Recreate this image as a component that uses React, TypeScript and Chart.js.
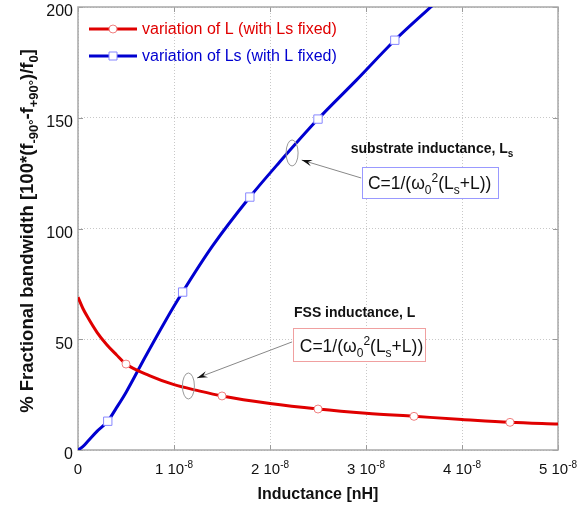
import React, { useEffect, useRef } from "react";
import { Chart, registerables } from "chart.js";
Chart.register(...registerables);

// x values are in units of 1e-8
const UNIT = 1e-8;
const redX = [0, 0.05, 0.1, 0.2, 0.3, 0.4, 0.5, 0.75, 1.0, 1.25, 1.5, 2.0, 2.5, 3.0, 3.5, 4.0, 4.5, 5.0];
const redY = [69, 64, 60, 53, 47.5, 43, 38.8, 33.5, 29.5, 26.8, 24.4, 21, 18.5, 16.6, 15.2, 13.8, 12.5, 11.7];
const redMarkX = [0.5, 1.5, 2.5, 3.5, 4.5];
const blueX = [0, 0.05, 0.1, 0.2, 0.31, 0.4, 0.5, 0.7, 0.9, 1.09, 1.4, 1.79, 2.1, 2.5, 2.9, 3.3, 3.7, 4.0];
const blueY = [0, 1.5, 3.8, 8.5, 13, 19, 26, 42, 57.5, 71.3, 92, 114.2, 130, 149.4, 167, 185, 201, 213];
const blueMarkX = [0.31, 1.09, 1.79, 2.5, 3.3];
const xTicks = [0, 1, 2, 3, 4, 5];
const yTicks = [0, 50, 100, 150, 200];
const seriesLabels = ["variation of L (with Ls fixed)", "variation of Ls (with L fixed)"];

const RED = "#e00000";
const BLUE = "#0000d0";
const FONT = "'Liberation Sans', Arial, sans-serif";

type Seg = { t: string; k?: "n" | "sub" | "sup" };

function drawRich(ctx: CanvasRenderingContext2D, x: number, y: number, segs: Seg[], size: number, bold: boolean) {
  const w = bold ? "bold " : "";
  let cx = x;
  for (const s of segs) {
    const k = s.k || "n";
    if (k === "n") {
      ctx.font = `${w}${size}px ${FONT}`;
      ctx.fillText(s.t, cx, y);
      cx += ctx.measureText(s.t).width;
    } else if (k === "sub") {
      ctx.font = `${w}${Math.round(size * 0.68)}px ${FONT}`;
      ctx.fillText(s.t, cx, y + size * 0.28);
      cx += ctx.measureText(s.t).width;
    } else {
      ctx.font = `${w}${Math.round(size * 0.68)}px ${FONT}`;
      ctx.fillText(s.t, cx, y - size * 0.4);
      cx += ctx.measureText(s.t).width;
    }
  }
  return cx - x;
}

function measureRich(ctx: CanvasRenderingContext2D, segs: Seg[], size: number, bold: boolean) {
  const w = bold ? "bold " : "";
  let tot = 0;
  for (const s of segs) {
    const k = s.k || "n";
    ctx.font = k === "n" ? `${w}${size}px ${FONT}` : `${w}${Math.round(size * 0.68)}px ${FONT}`;
    tot += ctx.measureText(s.t).width;
  }
  return tot;
}

const formula: Seg[] = [
  { t: "C=1/(ω" },
  { t: "0", k: "sub" },
  { t: "2", k: "sup" },
  { t: "(L" },
  { t: "s", k: "sub" },
  { t: "+L))" },
];

const decoPlugin = {
  id: "deco",
  beforeDatasetsDraw(chart: any) {
    const { ctx, chartArea: a } = chart;
    const xs = chart.scales.x;
    const ys = chart.scales.y;
    ctx.save();
    ctx.strokeStyle = "#9a9a9a";
    ctx.lineWidth = 1;
    ctx.beginPath();
    for (const t of xTicks) {
      const px = Math.round(xs.getPixelForValue(t * UNIT)) + 0.5;
      ctx.moveTo(px, a.bottom);
      ctx.lineTo(px, a.bottom - 5);
      ctx.moveTo(px, a.top);
      ctx.lineTo(px, a.top + 5);
    }
    for (const t of yTicks) {
      const py = Math.round(ys.getPixelForValue(t)) + 0.5;
      ctx.moveTo(a.left, py);
      ctx.lineTo(a.left + 5, py);
      ctx.moveTo(a.right, py);
      ctx.lineTo(a.right - 5, py);
    }
    ctx.stroke();
    ctx.strokeStyle = "#a8a8a8";
    ctx.lineWidth = 1.5;
    ctx.strokeRect(a.left, a.top, a.right - a.left, a.bottom - a.top);
    ctx.restore();
  },
  afterDraw(chart: any) {
    const { ctx, chartArea: a } = chart;
    const xs = chart.scales.x;
    const ys = chart.scales.y;
    const X = (v: number) => xs.getPixelForValue(v * UNIT);
    const Y = (v: number) => ys.getPixelForValue(v);
    ctx.save();
    ctx.fillStyle = "#111";
    // x tick labels
    ctx.textBaseline = "alphabetic";
    for (const t of xTicks) {
      const segs: Seg[] = t === 0 ? [{ t: "0" }] : [{ t: `${t} 10` }, { t: "-8", k: "sup" }];
      const w = measureRich(ctx, segs, 15, false);
      drawRich(ctx, X(t) - w / 2, a.bottom + 24, segs, 15, false);
    }
    // y tick labels
    ctx.font = `16px ${FONT}`;
    ctx.textAlign = "right";
    ctx.textBaseline = "middle";
    for (const t of yTicks) {
      ctx.fillText(String(t), a.left - 5, Y(t) + 5);
    }
    ctx.textAlign = "left";
    // x title
    ctx.textBaseline = "alphabetic";
    ctx.font = `bold 16px ${FONT}`;
    const xt = "Inductance [nH]";
    const xtw = ctx.measureText(xt).width;
    ctx.fillText(xt, (a.left + a.right) / 2 - xtw / 2, a.bottom + 49);
    // y title
    const ySegs: Seg[] = [
      { t: "% Fractional bandwidth [100*(f" },
      { t: "-90°", k: "sub" },
      { t: "-f" },
      { t: "+90°", k: "sub" },
      { t: ")/f" },
      { t: "0", k: "sub" },
      { t: "]" },
    ];
    const yw = measureRich(ctx, ySegs, 18.5, true);
    ctx.save();
    ctx.translate(33, 231);
    ctx.rotate(-Math.PI / 2);
    drawRich(ctx, -yw / 2, 0, ySegs, 18.5, true);
    ctx.restore();

    // legend
    const legendRows = [
      { c: RED, label: seriesLabels[0], style: "circle", border: "#f08080" },
      { c: BLUE, label: seriesLabels[1], style: "rect", border: "#8888ff" },
    ];
    legendRows.forEach((r, i) => {
      const ly = 29 + i * 27;
      ctx.strokeStyle = r.c;
      ctx.lineWidth = 3;
      ctx.beginPath();
      ctx.moveTo(89, ly);
      ctx.lineTo(137, ly);
      ctx.stroke();
      ctx.fillStyle = "#fff";
      ctx.strokeStyle = r.border;
      ctx.lineWidth = 1;
      ctx.beginPath();
      if (r.style === "circle") ctx.arc(113, ly, 4, 0, Math.PI * 2);
      else ctx.rect(109, ly - 4, 8, 8);
      ctx.fill();
      ctx.stroke();
      ctx.fillStyle = r.c;
      ctx.font = `16px ${FONT}`;
      ctx.textBaseline = "middle";
      ctx.fillText(r.label, 142, ly + 1);
    });

    // annotations
    const ann = [
      {
        title: [{ t: "substrate inductance, L" }, { t: "s", k: "sub" }] as Seg[],
        tx: 2.84, ty: 134,
        box: [2.96, 127.8, 4.375, 113.8], boxColor: "#9999ff",
        fx: 3.02, fy: 117.8,
        arrow: [2.95, 122.8, 2.33, 130.9],
        ell: [2.23, 134.1],
      },
      {
        title: [{ t: "FSS inductance, L" }] as Seg[],
        tx: 2.25, ty: 60,
        box: [2.24, 55.1, 3.61, 40.2], boxColor: "#f0a0a0",
        fx: 2.31, fy: 44.2,
        arrow: [2.23, 48.8, 1.24, 32.5],
        ell: [1.15, 28.9],
      },
    ];
    for (const an of ann) {
      ctx.textBaseline = "alphabetic";
      ctx.fillStyle = "#111";
      drawRich(ctx, X(an.tx), Y(an.ty), an.title, 14, true);
      const bx0 = X(an.box[0]), by0 = Y(an.box[1]), bx1 = X(an.box[2]), by1 = Y(an.box[3]);
      ctx.fillStyle = "#fff";
      ctx.fillRect(bx0, by0, bx1 - bx0, by1 - by0);
      ctx.strokeStyle = an.boxColor;
      ctx.lineWidth = 1;
      ctx.strokeRect(Math.round(bx0) + 0.5, Math.round(by0) + 0.5, Math.round(bx1 - bx0), Math.round(by1 - by0));
      ctx.fillStyle = "#111";
      drawRich(ctx, X(an.fx), Y(an.fy), formula, 17.5, false);
      const ax0 = X(an.arrow[0]), ay0 = Y(an.arrow[1]), ax1 = X(an.arrow[2]), ay1 = Y(an.arrow[3]);
      ctx.strokeStyle = "#888";
      ctx.lineWidth = 1;
      ctx.beginPath();
      ctx.moveTo(ax0, ay0);
      ctx.lineTo(ax1, ay1);
      ctx.stroke();
      const ang = Math.atan2(ay1 - ay0, ax1 - ax0);
      const hl = 11, hw = 0.3;
      ctx.fillStyle = "#111";
      ctx.beginPath();
      ctx.moveTo(ax1, ay1);
      ctx.lineTo(ax1 - hl * Math.cos(ang - hw), ay1 - hl * Math.sin(ang - hw));
      ctx.lineTo(ax1 - hl * 0.6 * Math.cos(ang), ay1 - hl * 0.6 * Math.sin(ang));
      ctx.lineTo(ax1 - hl * Math.cos(ang + hw), ay1 - hl * Math.sin(ang + hw));
      ctx.closePath();
      ctx.fill();
      ctx.strokeStyle = "#999";
      ctx.lineWidth = 1;
      ctx.beginPath();
      ctx.ellipse(X(an.ell[0]), Y(an.ell[1]), 6, 13, 0, 0, Math.PI * 2);
      ctx.stroke();
    }
    ctx.restore();
  },
};

export default function App() {
  const ref = useRef<HTMLCanvasElement | null>(null);
  useEffect(() => {
    if (!ref.current) return;
    const redPts = redX.map((x, i) => ({ x: x * UNIT, y: redY[i] }));
    const bluePts = blueX.map((x, i) => ({ x: x * UNIT, y: blueY[i] }));
    const chart = new Chart(ref.current, {
      type: "line",
      data: {
        datasets: [
          {
            label: seriesLabels[0],
            data: redPts,
            borderColor: RED,
            borderWidth: 3,
            cubicInterpolationMode: "monotone",
            pointStyle: "circle",
            pointRadius: redX.map((x) => (redMarkX.includes(x) ? 4 : 0)),
            pointBackgroundColor: "#fff",
            pointBorderColor: "#f08080",
            pointBorderWidth: 1,
          },
          {
            label: seriesLabels[1],
            data: bluePts,
            borderColor: BLUE,
            borderWidth: 3,
            cubicInterpolationMode: "monotone",
            pointStyle: "rect",
            pointRadius: blueX.map((x) => (blueMarkX.includes(x) ? 5.9 : 0)),
            pointBackgroundColor: "#fff",
            pointBorderColor: "#8888ff",
            pointBorderWidth: 1,
          },
        ],
      },
      options: {
        responsive: false,
        animation: false,
        events: [],
        layout: { padding: { left: 0, top: 7, right: 29, bottom: 0 } },
        plugins: { legend: { display: false }, tooltip: { enabled: false } },
        scales: {
          x: {
            type: "linear",
            min: 0,
            max: 5 * UNIT,
            afterBuildTicks: (s: any) => {
              s.ticks = xTicks.map((v) => ({ value: v * UNIT }));
            },
            ticks: { display: false },
            border: { display: false, dash: [1, 2] },
            grid: { color: "#c8c8c8", lineWidth: 1, drawTicks: false },
            afterFit: (s: any) => {
              s.height = 56;
            },
          },
          y: {
            type: "linear",
            min: 0,
            max: 200,
            afterBuildTicks: (s: any) => {
              s.ticks = yTicks.map((v) => ({ value: v }));
            },
            ticks: { display: false },
            border: { display: false, dash: [1, 2] },
            grid: { color: "#c8c8c8", lineWidth: 1, drawTicks: false },
            afterFit: (s: any) => {
              s.width = 78;
            },
          },
        },
      },
      plugins: [decoPlugin],
    } as any);
    return () => chart.destroy();
  }, []);
  return (
    <div style={{ position: "absolute", left: 0, top: 0, width: 587, height: 506, background: "#fff" }}>
      <canvas ref={ref} width={587} height={506} style={{ display: "block" }} />
    </div>
  );
}
